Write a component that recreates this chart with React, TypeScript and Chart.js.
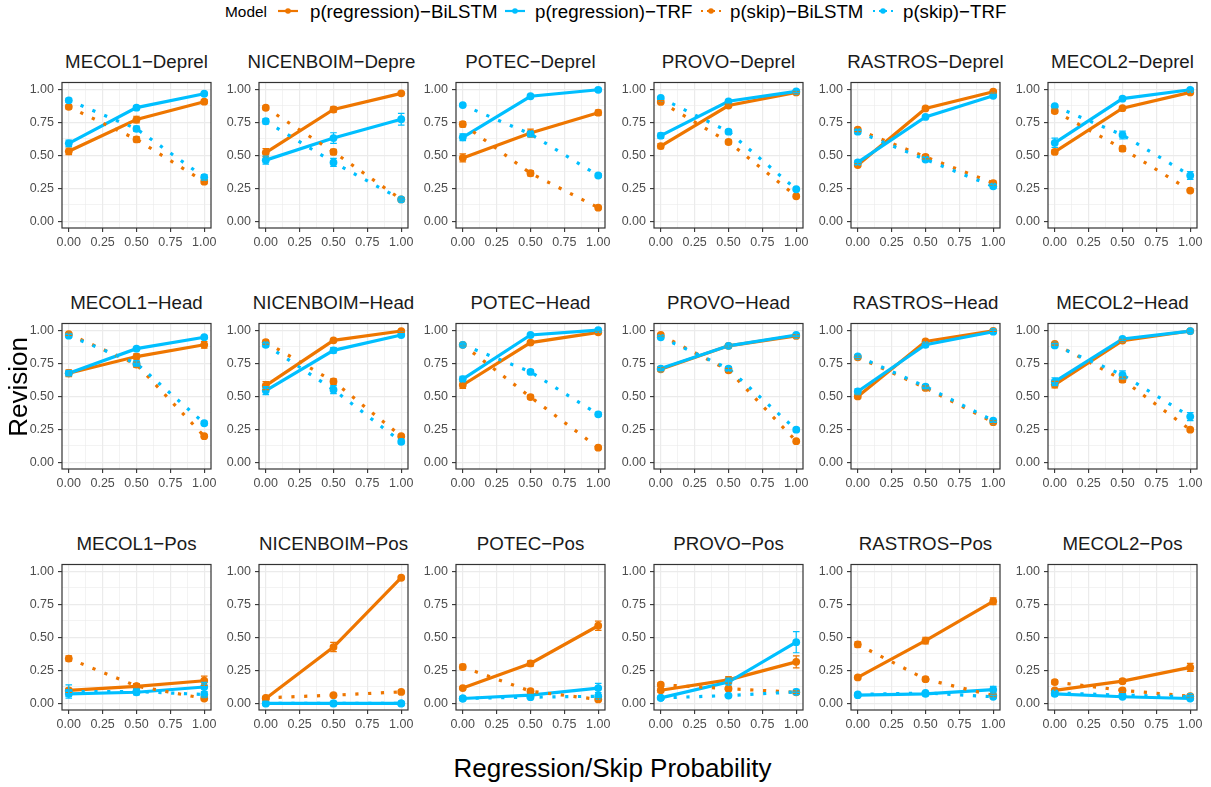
import React, { useEffect, useRef } from "react";
import { Chart, registerables } from "chart.js";
Chart.register(...registerables);

const FONT = "'Liberation Sans', Arial, Helvetica, sans-serif";
const ORANGE = "#EE7600";
const BLUE = "#00BFFF";

const panelTitles = [
  "MECOL1−Deprel", "NICENBOIM−Deprel", "POTEC−Deprel", "PROVO−Deprel", "RASTROS−Deprel", "MECOL2−Deprel",
  "MECOL1−Head", "NICENBOIM−Head", "POTEC−Head", "PROVO−Head", "RASTROS−Head", "MECOL2−Head",
  "MECOL1−Pos", "NICENBOIM−Pos", "POTEC−Pos", "PROVO−Pos", "RASTROS−Pos", "MECOL2−Pos",
];
const seriesNames = ["p(regression)−BiLSTM", "p(regression)−TRF", "p(skip)−BiLSTM", "p(skip)−TRF"];
const xValues = [0, 0.5, 1];
const gridTicks = [0, 0.125, 0.25, 0.375, 0.5, 0.625, 0.75, 0.875, 1];
const majorTicks = [0, 0.25, 0.5, 0.75, 1];
const legendTitle = "Model";
const xAxisTitle = "Regression/Skip Probability";
const yAxisTitle = "Revision";

const regBiLSTM = [
  [0.53, 0.77, 0.905], [0.52, 0.846, 0.968], [0.48, 0.668, 0.822], [0.569, 0.876, 0.975], [0.426, 0.854, 0.98], [0.525, 0.856, 0.975],
  [0.674, 0.80, 0.889], [0.58, 0.923, 0.993], [0.585, 0.906, 0.983], [0.704, 0.881, 0.956], [0.499, 0.914, 0.995], [0.588, 0.921, 0.993],
  [0.099, 0.129, 0.171], [0.037, 0.426, 0.95], [0.116, 0.302, 0.587], [0.099, 0.178, 0.314], [0.196, 0.475, 0.772], [0.099, 0.168, 0.272],
];
const regTRF = [
  [0.59, 0.86, 0.965], [0.463, 0.63, 0.772], [0.636, 0.946, 0.995], [0.648, 0.908, 0.983], [0.446, 0.79, 0.95], [0.594, 0.928, 0.995],
  [0.674, 0.86, 0.946], [0.543, 0.847, 0.963], [0.63, 0.963, 1.0], [0.709, 0.881, 0.963], [0.536, 0.889, 0.988], [0.61, 0.933, 0.993],
  [0.072, 0.084, 0.124], [0.0, 0.0, 0.0], [0.037, 0.062, 0.116], [0.042, 0.161, 0.463], [0.062, 0.072, 0.104], [0.072, 0.05, 0.037],
];
const skipBiLSTM = [
  [0.866, 0.62, 0.30], [0.859, 0.525, 0.166], [0.735, 0.364, 0.104], [0.903, 0.60, 0.19], [0.693, 0.488, 0.29], [0.834, 0.55, 0.233],
  [0.97, 0.74, 0.198], [0.909, 0.612, 0.198], [0.889, 0.494, 0.111], [0.963, 0.696, 0.16], [0.795, 0.563, 0.304], [0.896, 0.625, 0.247],
  [0.339, 0.131, 0.037], [0.042, 0.062, 0.087], [0.275, 0.092, 0.03], [0.141, 0.111, 0.084], [0.446, 0.183, 0.059], [0.161, 0.099, 0.054],
];
const skipTRF = [
  [0.915, 0.70, 0.334], [0.757, 0.446, 0.166], [0.879, 0.661, 0.347], [0.933, 0.678, 0.243], [0.678, 0.468, 0.265], [0.871, 0.653, 0.347],
  [0.958, 0.748, 0.296], [0.889, 0.55, 0.156], [0.889, 0.684, 0.363], [0.946, 0.709, 0.247], [0.802, 0.573, 0.316], [0.884, 0.662, 0.346],
  [0.09, 0.09, 0.067], [0.0, 0.0, 0.0], [0.037, 0.047, 0.054], [0.042, 0.059, 0.087], [0.067, 0.079, 0.05], [0.079, 0.062, 0.05],
];

const regBiLSTMErr = [
  [0.025, 0.025, 0.015], [0.03, 0.02, 0.01], [0.03, 0.03, 0.02], [0.02, 0.01, 0.01], [0.01, 0.01, 0.01], [0.015, 0.01, 0.01],
  [0.025, 0.02, 0.025], [0.03, 0.01, 0.01], [0.025, 0.01, 0.01], [0.015, 0.01, 0.01], [0.015, 0.01, 0.005], [0.025, 0.01, 0.005],
  [0.015, 0.02, 0.035], [0.01, 0.035, 0.01], [0.01, 0.02, 0.035], [0.015, 0.025, 0.045], [0.01, 0.025, 0.025], [0.01, 0.015, 0.03],
];
const regTRFErr = [
  [0.025, 0.015, 0.01], [0.03, 0.04, 0.045], [0.025, 0.01, 0.01], [0.02, 0.01, 0.01], [0.015, 0.01, 0.01], [0.035, 0.01, 0.01],
  [0.02, 0.01, 0.01], [0.03, 0.02, 0.01], [0.02, 0.01, 0.005], [0.015, 0.01, 0.01], [0.02, 0.015, 0.01], [0.03, 0.01, 0.005],
  [0.02, 0.02, 0.035], [0.005, 0.005, 0.005], [0.01, 0.01, 0.035], [0.01, 0.03, 0.08], [0.01, 0.015, 0.025], [0.015, 0.01, 0.01],
];
const skipBiLSTMErr = [
  [0.015, 0.02, 0.015], [0.015, 0.02, 0.01], [0.02, 0.02, 0.01], [0.01, 0.015, 0.01], [0.015, 0.015, 0.015], [0.015, 0.02, 0.01],
  [0.01, 0.02, 0.01], [0.015, 0.02, 0.01], [0.01, 0.015, 0.01], [0.01, 0.015, 0.01], [0.01, 0.015, 0.01], [0.01, 0.02, 0.01],
  [0.02, 0.015, 0.01], [0.01, 0.01, 0.01], [0.02, 0.015, 0.01], [0.015, 0.015, 0.01], [0.02, 0.015, 0.01], [0.015, 0.015, 0.01],
];
const skipTRFErr = [
  [0.015, 0.02, 0.02], [0.02, 0.03, 0.01], [0.01, 0.02, 0.015], [0.01, 0.015, 0.01], [0.015, 0.015, 0.015], [0.01, 0.03, 0.03],
  [0.01, 0.02, 0.015], [0.015, 0.03, 0.015], [0.01, 0.015, 0.015], [0.01, 0.015, 0.015], [0.01, 0.015, 0.01], [0.015, 0.03, 0.03],
  [0.05, 0.02, 0.02], [0.005, 0.005, 0.005], [0.01, 0.01, 0.01], [0.01, 0.01, 0.02], [0.01, 0.01, 0.01], [0.01, 0.01, 0.01],
];

// layout
const COLS = 6;
const PLOT_W = 149;
const PLOT_H = 147;
const colLeft = (c: number) => Math.round(62 + 197.2 * c);
const rowTop = (r: number) => Math.round(81 + 241 * r);
const Y_AXIS_W = 45;
const PAD_R = 12;
const PAD_T = 10;
const X_AXIS_H = 26;

const isMajor = (v: number) => majorTicks.some((m) => Math.abs(m - v) < 1e-6);

function makeScale(axis: "x" | "y") {
  return {
    type: "linear" as const,
    position: axis === "x" ? "bottom" : "left",
    min: -0.05,
    max: 1.05,
    afterBuildTicks: (s: any) => {
      s.ticks = gridTicks.map((v) => ({ value: v }));
    },
    afterFit: (s: any) => {
      if (axis === "x") s.height = X_AXIS_H;
      else s.width = Y_AXIS_W;
    },
    ticks: {
      autoSkip: false,
      maxRotation: 0,
      minRotation: 0,
      padding: axis === "x" ? 3 : 4,
      color: "#4D4D4D",
      font: { family: FONT, size: 12.5 },
      callback: (v: any) => (isMajor(Number(v)) ? Number(v).toFixed(2) : ""),
    },
    grid: {
      color: "#EBEBEB",
      lineWidth: (ctx: any) => (ctx.tick && isMajor(ctx.tick.value) ? 1.2 : 0.6),
      drawTicks: true,
      tickLength: 4,
      tickWidth: 1.1,
      tickColor: (ctx: any) => (ctx.tick && isMajor(ctx.tick.value) ? "#333333" : "rgba(0,0,0,0)"),
    },
    border: { display: false },
  };
}

function Panel({ idx }: { idx: number }) {
  const ref = useRef<HTMLCanvasElement>(null);
  const col = idx % COLS;
  const row = Math.floor(idx / COLS);
  const left = colLeft(col) - Y_AXIS_W;
  const top = rowTop(row) - PAD_T;
  const w = Y_AXIS_W + PLOT_W + PAD_R;
  const h = PAD_T + PLOT_H + X_AXIS_H;

  useEffect(() => {
    const series = [
      { vals: regBiLSTM[idx], errs: regBiLSTMErr[idx], color: ORANGE, dotted: false },
      { vals: regTRF[idx], errs: regTRFErr[idx], color: BLUE, dotted: false },
      { vals: skipBiLSTM[idx], errs: skipBiLSTMErr[idx], color: ORANGE, dotted: true },
      { vals: skipTRF[idx], errs: skipTRFErr[idx], color: BLUE, dotted: true },
    ];
    const lineSets = series.map((s, k) => ({
      label: seriesNames[k],
      data: xValues.map((x, i) => ({ x, y: s.vals[i] })),
      borderColor: s.color,
      backgroundColor: s.color,
      borderWidth: 3.2,
      borderDash: s.dotted ? [3.2, 9.6] : [],
      borderCapStyle: "butt" as const,
      pointRadius: 0,
      fill: false,
      tension: 0,
      order: 20 - k,
    }));
    const pointSets = series.map((s, k) => ({
      label: seriesNames[k] + " points",
      data: xValues.map((x, i) => ({ x, y: s.vals[i] })),
      showLine: false,
      pointRadius: 3.9,
      pointBorderWidth: 0,
      pointBackgroundColor: s.color,
      backgroundColor: s.color,
      borderColor: s.color,
      order: 10 - k,
    }));

    const errorBars = {
      id: "errorBars",
      afterDatasetsDraw(chart: any) {
        const ctx = chart.ctx;
        const xs = chart.scales.x;
        const ys = chart.scales.y;
        ctx.save();
        series.forEach((s) => {
          ctx.strokeStyle = s.color;
          ctx.lineWidth = 1.2;
          xValues.forEach((x, i) => {
            const px = xs.getPixelForValue(x);
            const y1 = ys.getPixelForValue(s.vals[i] - s.errs[i]);
            const y2 = ys.getPixelForValue(s.vals[i] + s.errs[i]);
            ctx.beginPath();
            ctx.moveTo(px, y1);
            ctx.lineTo(px, y2);
            ctx.moveTo(px - 3.3, y1);
            ctx.lineTo(px + 3.3, y1);
            ctx.moveTo(px - 3.3, y2);
            ctx.lineTo(px + 3.3, y2);
            ctx.stroke();
          });
        });
        ctx.restore();
      },
    };
    const frame = {
      id: "frame",
      afterDraw(chart: any) {
        const a = chart.chartArea;
        const ctx = chart.ctx;
        ctx.save();
        ctx.strokeStyle = "#333333";
        ctx.lineWidth = 1.2;
        ctx.strokeRect(a.left, a.top, a.right - a.left, a.bottom - a.top);
        ctx.restore();
      },
    };

    const chart = new Chart(ref.current as HTMLCanvasElement, {
      type: "line",
      data: { datasets: [...lineSets, ...pointSets] as any },
      options: {
        animation: false,
        responsive: false,
        maintainAspectRatio: false,
        layout: { padding: { left: 0, right: PAD_R, top: PAD_T, bottom: 0 } },
        plugins: { legend: { display: false }, tooltip: { enabled: false }, title: { display: false } },
        scales: { x: makeScale("x") as any, y: makeScale("y") as any },
      },
      plugins: [errorBars, frame],
    });
    return () => chart.destroy();
  }, [idx]);

  return (
    <canvas
      ref={ref}
      width={w}
      height={h}
      style={{ position: "absolute", left, top, width: w, height: h }}
    />
  );
}

function LegendKey({ color, dotted, left }: { color: string; dotted: boolean; left: number }) {
  return (
    <svg width={24} height={12} style={{ position: "absolute", left, top: 5 }}>
      <line
        x1={2}
        y1={6}
        x2={22}
        y2={6}
        stroke={color}
        strokeWidth={2.2}
        strokeDasharray={dotted ? "2 4" : undefined}
      />
      <circle cx={12} cy={6} r={2.8} fill={color} />
    </svg>
  );
}

export default function App() {
  const titleFs = 18.7;
  const legendItems = [
    { key: 276, text: 310, color: ORANGE, dotted: false },
    { key: 503, text: 535, color: BLUE, dotted: false },
    { key: 699, text: 730, color: ORANGE, dotted: true },
    { key: 871, text: 903, color: BLUE, dotted: true },
  ];
  const CLIP_L = 30;
  const CLIP_R = 8;
  return (
    <div
      style={{
        position: "absolute",
        left: 0,
        top: 0,
        width: 1211,
        height: 787,
        background: "#FFFFFF",
        fontFamily: FONT,
        overflow: "hidden",
      }}
    >
      <div style={{ position: "absolute", left: 225, top: 4.3, fontSize: 15.4, lineHeight: 1, color: "#000", whiteSpace: "nowrap" }}>
        {legendTitle}
      </div>
      {legendItems.map((it, k) => (
        <React.Fragment key={k}>
          <LegendKey color={it.color} dotted={it.dotted} left={it.key} />
          <div
            style={{ position: "absolute", left: it.text, top: 2.5, fontSize: titleFs, lineHeight: 1, color: "#000", whiteSpace: "nowrap" }}
          >
            {seriesNames[k]}
          </div>
        </React.Fragment>
      ))}
      {panelTitles.map((t, i) => {
        const col = i % COLS;
        const row = Math.floor(i / COLS);
        return (
          <div
            key={"t" + i}
            style={{
              position: "absolute",
              left: colLeft(col) - CLIP_L,
              width: PLOT_W + CLIP_L + CLIP_R,
              top: 69 + 241 * row - 0.8465 * titleFs - 2,
              height: titleFs + 6,
              overflow: "hidden",
            }}
          >
            <div
              style={{
                position: "absolute",
                left: CLIP_L - 40,
                width: PLOT_W + 80,
                top: 2,
                textAlign: "center",
                fontSize: titleFs,
                lineHeight: 1,
                color: "#1A1A1A",
                whiteSpace: "nowrap",
              }}
            >
              {t}
            </div>
          </div>
        );
      })}
      {panelTitles.map((_, i) => (
        <Panel key={"p" + i} idx={i} />
      ))}
      <div
        style={{
          position: "absolute",
          left: 0,
          width: 1211,
          top: 777 - 0.8465 * 26,
          paddingLeft: 14,
          boxSizing: "border-box",
          textAlign: "center",
          fontSize: 26,
          lineHeight: 1,
          color: "#000",
          whiteSpace: "nowrap",
        }}
      >
        {xAxisTitle}
      </div>
      <div
        style={{
          position: "absolute",
          left: 17.7 - 100,
          top: 387 - 13,
          width: 200,
          height: 26,
          textAlign: "center",
          fontSize: 26,
          lineHeight: 1,
          color: "#000",
          transform: "rotate(-90deg)",
          whiteSpace: "nowrap",
        }}
      >
        {yAxisTitle}
      </div>
    </div>
  );
}
